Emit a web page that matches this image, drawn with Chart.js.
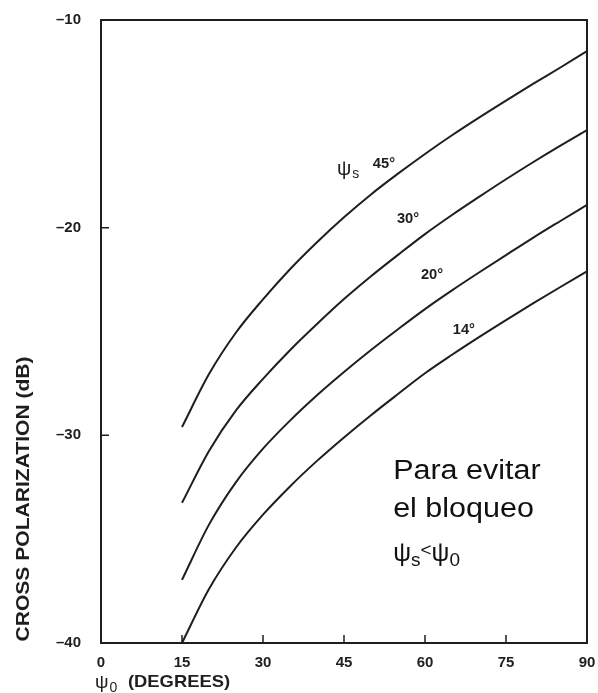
<!DOCTYPE html>
<html>
<head>
<meta charset="utf-8">
<script src="https://cdn.jsdelivr.net/npm/chart.js@4.4.0/dist/chart.umd.min.js"></script>
<style>
  html, body { margin: 0; padding: 0; background: #fff; }
  #c { display: block; }
</style>
</head>
<body>
<canvas id="c" width="598" height="693"></canvas>
<script>
// Feed angle psi0 (degrees) and cross-polarization (dB) for each subtended angle psiS
const psi0 = [15, 20, 25, 30, 35, 40, 45, 50, 55, 60, 65, 70, 75, 80, 85, 90];
const xpol45 = [-29.6, -27.05, -25.05, -23.45, -22.0, -20.7, -19.5, -18.4, -17.4, -16.45, -15.55, -14.7, -13.88, -13.08, -12.3, -11.5];
const xpol30 = [-33.25, -30.75, -28.8, -27.28, -25.9, -24.64, -23.44, -22.34, -21.31, -20.31, -19.39, -18.52, -17.67, -16.85, -16.06, -15.3];
const xpol20 = [-36.96, -34.3, -32.25, -30.64, -29.29, -28.07, -26.95, -25.89, -24.89, -23.92, -23.02, -22.16, -21.32, -20.49, -19.69, -18.9];
const xpol14 = [-40, -37.4, -35.4, -33.82, -32.46, -31.23, -30.1, -29.03, -28.01, -27.01, -26.12, -25.27, -24.45, -23.65, -22.87, -22.1];
const seriesNames = ['45°', '30°', '20°', '14°'];

const xTickValues = [0, 15, 30, 45, 60, 75, 90];
const xTickLabels = ['0', '15', '30', '45', '60', '75', '90'];
const yTickValues = [-10, -20, -30, -40];
const yTickLabels = ['–10', '–20', '–30', '–40'];

const ink = '#1e1e1e';
const SANS = '"Liberation Sans", Arial, Helvetica, sans-serif';

// curve label anchors in data units (centre of the text)
const labelAnchors = [
  { x: 52.4, y: -16.93 },
  { x: 56.85, y: -19.58 },
  { x: 61.3, y: -22.28 },
  { x: 67.2, y: -24.93 }
];

function txt(ctx, s, x, y, font, opts) {
  opts = opts || {};
  const sx = opts.sx || 1;
  ctx.save();
  ctx.font = font;
  ctx.fillStyle = opts.color || ink;
  ctx.textAlign = opts.align || 'left';
  ctx.textBaseline = opts.baseline || 'alphabetic';
  ctx.translate(x, y);
  if (opts.rot) ctx.rotate(opts.rot);
  ctx.scale(sx, 1);
  ctx.fillText(s, 0, 0);
  const w = ctx.measureText(s).width * sx;
  ctx.restore();
  return w;
}

const decorations = {
  id: 'decorations',
  afterDatasetsDraw(chart) {
    const { ctx, chartArea: a, scales } = chart;
    const xs = scales.x, ys = scales.y;

    // frame
    ctx.save();
    ctx.strokeStyle = ink;
    ctx.lineWidth = 2;
    ctx.strokeRect(a.left, a.top, a.right - a.left, a.bottom - a.top);

    // inward tick marks
    ctx.lineWidth = 1.5;
    ctx.beginPath();
    xTickValues.forEach(v => {
      if (v === xs.min || v === xs.max) return;
      const px = xs.getPixelForValue(v);
      ctx.moveTo(px, a.bottom);
      ctx.lineTo(px, a.bottom - 8);
    });
    yTickValues.forEach(v => {
      if (v === ys.min || v === ys.max) return;
      const py = ys.getPixelForValue(v);
      ctx.moveTo(a.left, py);
      ctx.lineTo(a.left + 8, py);
    });
    ctx.stroke();
    ctx.restore();

    // curve labels
    seriesNames.forEach((name, i) => {
      const p = labelAnchors[i];
      txt(ctx, name, xs.getPixelForValue(p.x), ys.getPixelForValue(p.y),
        'bold 14px ' + SANS, { align: 'center', baseline: 'middle', sx: 1.05 });
    });
    // psi_s symbol in front of the first label
    const gx = xs.getPixelForValue(43.7), gy = ys.getPixelForValue(-17.45);
    const gw = txt(ctx, 'ψ', gx, gy, '20px ' + SANS);
    txt(ctx, 's', gx + gw + 1, gy + 3, '14px ' + SANS);

    // y axis title
    txt(ctx, 'CROSS POLARIZATION (dB)', 29, 499, 'bold 18px ' + SANS,
      { align: 'center', rot: -Math.PI / 2, sx: 1.17 });

    // x axis title
    const w0 = txt(ctx, 'ψ', 95, 688, '19px ' + SANS);
    txt(ctx, '0', 95 + w0 + 1, 692, '14px ' + SANS);
    txt(ctx, '(DEGREES)', 128, 687, 'bold 17px ' + SANS, { sx: 1.08 });

    // note on blockage
    const nx = xs.getPixelForValue(54.1);
    const f = '27px ' + SANS;
    txt(ctx, 'Para evitar', nx, 479, f, { sx: 1.13, color: '#111' });
    txt(ctx, 'el bloqueo', nx, 517, f, { sx: 1.13, color: '#111' });
    let cx = nx;
    cx += txt(ctx, 'ψ', cx, 561, '25px ' + SANS, { color: '#111' });
    cx += txt(ctx, 's', cx, 566, '19px ' + SANS, { color: '#111' });
    cx += txt(ctx, '<', cx, 556, '19px ' + SANS, { color: '#111' });
    cx += txt(ctx, 'ψ', cx, 561, '25px ' + SANS, { color: '#111' });
    txt(ctx, '0', cx, 566, '19px ' + SANS, { color: '#111' });
  }
};

function series(values) {
  return psi0.map((x, i) => ({ x: x, y: values[i] }));
}

const lineStyle = {
  borderColor: ink,
  borderWidth: 2,
  pointRadius: 0,
  fill: false,
  cubicInterpolationMode: 'monotone'
};

new Chart(document.getElementById('c'), {
  type: 'line',
  data: {
    datasets: [
      Object.assign({ label: seriesNames[0], data: series(xpol45) }, lineStyle),
      Object.assign({ label: seriesNames[1], data: series(xpol30) }, lineStyle),
      Object.assign({ label: seriesNames[2], data: series(xpol20) }, lineStyle),
      Object.assign({ label: seriesNames[3], data: series(xpol14) }, lineStyle)
    ]
  },
  options: {
    responsive: false,
    animation: false,
    devicePixelRatio: 1,
    layout: { padding: { left: 10, top: 20, right: 11, bottom: 0 } },
    plugins: { legend: { display: false }, tooltip: { enabled: false } },
    scales: {
      x: {
        type: 'linear',
        min: 0, max: 90,
        afterBuildTicks: s => { s.ticks = xTickValues.map(v => ({ value: v })); },
        afterFit: s => { s.height = 50; s.paddingLeft = 0; s.paddingRight = 0; },
        grid: { display: false, drawTicks: false },
        border: { display: false },
        ticks: {
          autoSkip: false, maxRotation: 0, padding: 11,
          color: ink,
          font: { family: SANS, size: 15, weight: 'bold' },
          callback: v => xTickLabels[xTickValues.indexOf(v)]
        }
      },
      y: {
        type: 'linear',
        min: -40, max: -10,
        afterBuildTicks: s => { s.ticks = yTickValues.map(v => ({ value: v })); },
        afterFit: s => { s.width = 91; s.paddingTop = 0; s.paddingBottom = 0; },
        grid: { display: false, drawTicks: false },
        border: { display: false },
        ticks: {
          autoSkip: false, padding: 20,
          color: ink,
          font: { family: SANS, size: 15, weight: 'bold' },
          callback: v => yTickLabels[yTickValues.indexOf(v)]
        }
      }
    }
  },
  plugins: [decorations]
});
</script>
</body>
</html>
